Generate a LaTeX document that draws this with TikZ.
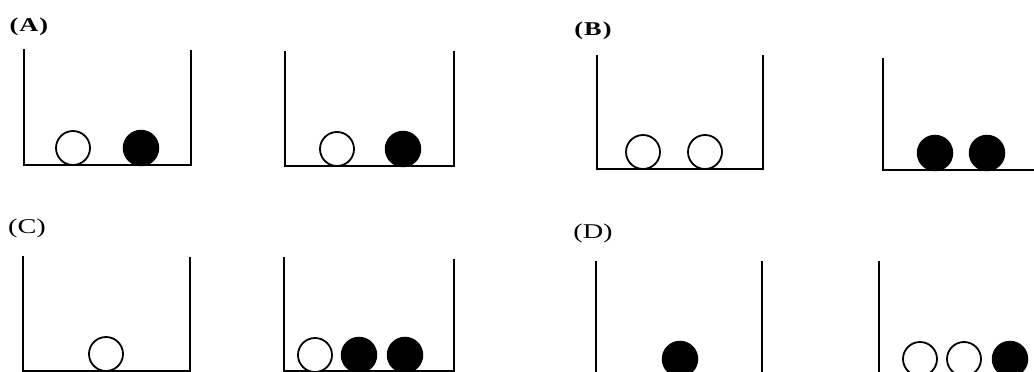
\documentclass[tikz,border=0pt]{standalone}
\usepackage{fontspec}
\usepackage{tikz}
\newfontfamily\labfont[FakeStretch=1.35]{Liberation Serif}

\begin{document}
\begin{tikzpicture}[
  x=1pt,
  y=-1pt,
  wall/.style={draw=black, line width=2pt},
  pale/.style={circle, draw=black, line width=1.8pt, fill=white, minimum size=34pt, inner sep=0pt},
  dark/.style={circle, draw=black, line width=1.5pt, fill=black, minimum size=35pt, inner sep=0pt},
  tag/.style={font=\labfont\fontsize{21}{21}\selectfont, inner sep=0pt},
  boldtag/.style={font=\labfont\bfseries\fontsize{19.5}{19.5}\selectfont, inner sep=0pt}
]
  \useasboundingbox (0,0) rectangle (1034,372);
  \clip (0,0) rectangle (1034,372);

  % labels
  \node[boldtag] (labA) at (29,27) {(\kern1pt A\kern1pt)};
  \node[boldtag] (labB) at (593,31) {(\kern1pt B\kern1pt)};
  \node[tag] (labC) at (27,228) {(C)};
  \node[tag] (labD) at (593,233) {(D)};

  % (A)
  \draw[wall] (24,49) -- (24,165) -- (191,165) -- (191,50);
  \node[pale] (a1) at (73,148) {};
  \node[dark] (a2) at (141,148) {};
  \draw[wall] (285,51) -- (285,166) -- (454,166) -- (454,51);
  \node[pale] (a3) at (337,149) {};
  \node[dark] (a4) at (403,149) {};

  % (B)
  \draw[wall] (597,55) -- (597,169) -- (763,169) -- (763,55);
  \node[pale] (b1) at (643,152) {};
  \node[pale] (b2) at (705,152) {};
  \draw[wall] (883,58) -- (883,170) -- (1040,170);
  \node[dark] (b3) at (935,153) {};
  \node[dark] (b4) at (987,153) {};

  % (C)
  \draw[wall] (23,256) -- (23,371) -- (190,371) -- (190,257);
  \node[pale] (c1) at (106,354) {};
  \draw[wall] (284,257) -- (284,371) -- (454,371) -- (454,259);
  \node[pale] (c2) at (315,355) {};
  \node[dark] (c3) at (359,355) {};
  \node[dark] (c4) at (405,355) {};

  % (D)
  \draw[wall] (596,261) -- (596,380);
  \draw[wall] (762,261) -- (762,380);
  \node[dark] (d1) at (680,359) {};
  \draw[wall] (879,261) -- (879,380);
  \node[pale] (d2) at (920,359) {};
  \node[pale] (d3) at (964,359) {};
  \node[dark] (d4) at (1010,359) {};
\end{tikzpicture}
\end{document}
